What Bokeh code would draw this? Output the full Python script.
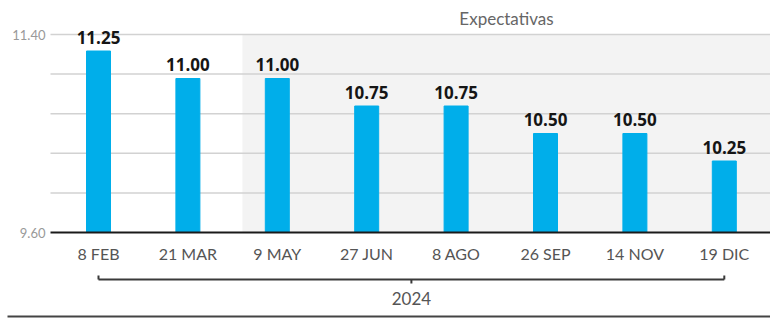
from bokeh.plotting import figure
from bokeh.models import Range1d, FixedTicker, BoxAnnotation, LinearAxis
from bokeh.core.properties import value
from bokeh.embed import file_html
from bokeh.resources import INLINE

# ---- data ----
dates = ["8 FEB", "21 MAR", "9 MAY", "27 JUN", "8 AGO", "26 SEP", "14 NOV", "19 DIC"]
rates = [11.25, 11.00, 11.00, 10.75, 10.75, 10.50, 10.50, 10.25]
y_tick_vals = [9.60, 11.40]
y_tick_labels = ["9.60", "11.40"]
grid_vals = [9.96, 10.32, 10.68, 11.04, 11.40]
year_label = "2024"
expect_label = "Expectativas"
expect_from = 1.61          # first index of the forecast area (shaded)

# ---- layout constants ----
base = 9.60
px_x = 89.4                 # px per category
px_y = 110.0                # px per rate unit
x0_px = 98                  # px from canvas left to first bar centre
base_px = 232               # px from canvas top to baseline
W, H = 770, 318

xs = list(range(len(dates)))
x_left = -x0_px / px_x
x_right = (W - x0_px) / px_x
y_top = base + base_px / px_y
y_bot = base - (H - base_px) / px_y
plot_left = x_left + 50 / px_x

p = figure(width=W, height=H, output_backend="svg", toolbar_location=None,
           x_range=Range1d(x_left, x_right), y_range=Range1d(y_bot, y_top),
           min_border=0, outline_line_color=None, x_axis_location=None,
           y_axis_location=None)
p.xgrid.visible = False
p.ygrid.visible = False
p.background_fill_color = "white"

# forecast shading
p.add_layout(BoxAnnotation(left=expect_from, bottom=base, top=y_tick_vals[-1],
                           fill_color="#f3f3f3", fill_alpha=1.0, line_color=None,
                           level="underlay"))

# grid lines
p.segment(x0=[plot_left] * len(grid_vals), x1=[x_right] * len(grid_vals),
          y0=grid_vals, y1=grid_vals, line_color="#d2d2d2", line_width=1.5)

# bars
p.vbar(x=xs, top=rates, bottom=base, width=24 / px_x, color="#00aeea")

# value labels
p.text(x=xs, y=rates, text=[f"{v:.2f}" for v in rates],
       text_font=value("Open Sans"), text_font_style="bold", text_font_size="17px",
       text_color="#151515", text_align="center", text_baseline="alphabetic",
       y_offset=-14)

# expectativas label
p.text(x=[(expect_from + x_right) / 2], y=[base + 214 / px_y], text=[expect_label],
       text_font=value("Lato"), text_font_size="17px", text_color="#666666",
       text_align="center", text_baseline="alphabetic")

# x axis at baseline
xa = LinearAxis(fixed_location=base, ticker=FixedTicker(ticks=xs),
                major_label_overrides={i: d for i, d in zip(xs, dates)},
                bounds=(plot_left, x_right))
xa.axis_line_color = "#1a1a1a"
xa.axis_line_width = 2
xa.major_tick_line_color = None
xa.minor_tick_line_color = None
xa.major_tick_out = 0
xa.major_tick_in = 0
xa.major_label_standoff = 11
xa.major_label_text_font = "Lato"
xa.major_label_text_font_size = "16px"
xa.major_label_text_color = "#555555"
p.add_layout(xa, "below")

# y axis labels
ya = LinearAxis(fixed_location=plot_left, ticker=FixedTicker(ticks=y_tick_vals),
                major_label_overrides={v: l for v, l in zip(y_tick_vals, y_tick_labels)})
ya.axis_line_color = None
ya.major_tick_line_color = None
ya.minor_tick_line_color = None
ya.major_tick_out = 0
ya.major_tick_in = 0
ya.major_label_standoff = 5
ya.major_label_text_font = "Lato"
ya.major_label_text_font_size = "13px"
ya.major_label_text_color = "#999999"
p.add_layout(ya, "left")

# year bracket
yb = base - 47 / px_y
tick = 4 / px_y
mid = (xs[0] + xs[-1]) / 2
p.segment(x0=[xs[0], xs[0], xs[-1], mid], x1=[xs[-1], xs[0], xs[-1], mid],
          y0=[yb, yb, yb, yb], y1=[yb, yb + tick, yb + tick, yb - tick],
          line_color="#3a3a3a", line_width=2)
p.text(x=[mid], y=[base - 66 / px_y], text=[year_label],
       text_font=value("Lato"), text_font_size="17px", text_color="#555555",
       text_align="center", text_baseline="alphabetic")

# bottom rule
p.segment(x0=[x_left + 7 / px_x], x1=[x_right], y0=[base - 84 / px_y], y1=[base - 84 / px_y],
          line_color="#444444", line_width=2)

open("out.html", "w").write(file_html(p, INLINE))
